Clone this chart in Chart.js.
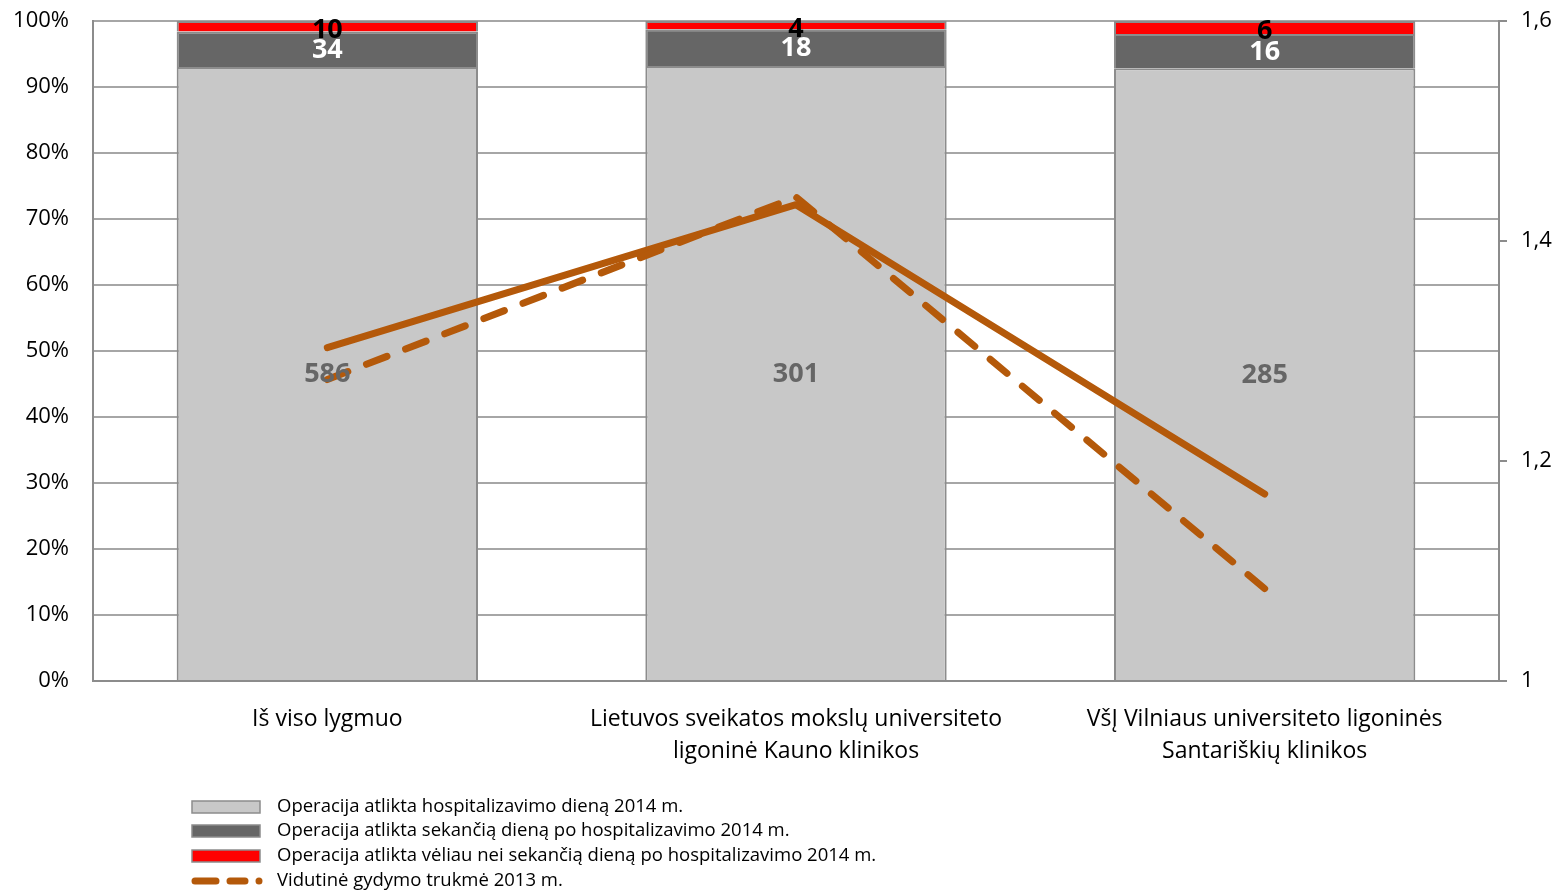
<!DOCTYPE html>
<html>
<head>
<meta charset="utf-8">
<script src="https://cdn.jsdelivr.net/npm/chart.js@4/dist/chart.umd.min.js"></script>
<style>
  html, body { margin: 0; padding: 0; background: #fff; }
  #wrap { width: 1561px; height: 893px; }
</style>
</head>
<body>
<div id="wrap"><canvas id="chart" width="1561" height="893"></canvas></div>
<script>
// categories and raw counts
const categories = [
  'Iš viso lygmuo',
  ['Lietuvos sveikatos mokslų universiteto', 'ligoninė Kauno klinikos'],
  ['VšĮ Vilniaus universiteto ligoninės', 'Santariškių klinikos']
];
const sameDay   = [586, 301, 285];
const nextDay   = [34, 18, 16];
const laterDay  = [10, 4, 6];
// average treatment duration (right axis)
const avg2013 = [1.274, 1.44, 1.084];
const avg2014 = [1.303, 1.433, 1.17];
const rightTicks = [1, 1.2, 1.4, 1.6];

const seriesNames = [
  'Operacija atlikta hospitalizavimo dieną 2014 m.',
  'Operacija atlikta sekančią dieną po hospitalizavimo 2014 m.',
  'Operacija atlikta vėliau nei sekančią dieną po hospitalizavimo 2014 m.',
  'Vidutinė gydymo trukmė 2013 m.',
  'Vidutinė gydymo trukmė 2014 m.'
];

const FONT = '"Open Sans", sans-serif';
const lineColor = '#b4590a';
const totals = sameDay.map((v, i) => v + nextDay[i] + laterDay[i]);
const pct = arr => arr.map((v, i) => v / totals[i] * 100);

// draw count labels in the middle of each bar segment
const barLabels = {
  id: 'barLabels',
  afterDatasetsDraw(chart) {
    const ctx = chart.ctx;
    const colors = ['#666666', '#ffffff', '#000000'];
    const raws = [sameDay, nextDay, laterDay];
    ctx.save();
    ctx.font = 'bold 27px ' + FONT;
    ctx.textAlign = 'center';
    ctx.textBaseline = 'middle';
    [0, 1, 2].forEach(di => {
      const meta = chart.getDatasetMeta(di);
      meta.data.forEach((bar, i) => {
        const y = (bar.y + bar.base) / 2 + (di === 2 ? 4 : 1);
        ctx.fillStyle = colors[di];
        ctx.fillText(String(raws[di][i]), bar.x, y);
      });
    });
    ctx.restore();
  }
};

// vertical legend, left aligned under the chart
const stackLegend = {
  id: 'stackLegend',
  afterDraw(chart) {
    const ctx = chart.ctx;
    const x0 = 192, x1 = 260, tx = 277;
    const rows = [807, 831, 856, 881];
    ctx.save();
    ctx.font = '18.5px ' + FONT;
    ctx.textBaseline = 'middle';
    ctx.textAlign = 'left';
    rows.forEach((y, i) => {
      const ds = chart.data.datasets[i];
      if (ds.type === 'line') {
        ctx.strokeStyle = ds.borderColor;
        ctx.lineWidth = 7;
        ctx.lineCap = 'round';
        ctx.setLineDash([21, 14, 15, 14, 0, 40]);
        ctx.beginPath();
        ctx.moveTo(x0 + 3, y);
        ctx.lineTo(x1, y);
        ctx.stroke();
        ctx.setLineDash([]);
      } else {
        ctx.fillStyle = ds.backgroundColor;
        ctx.fillRect(x0, y - 6, x1 - x0, 12);
        ctx.strokeStyle = '#8c8c8c';
        ctx.lineWidth = 1.5;
        ctx.strokeRect(x0, y - 6, x1 - x0, 12);
      }
      ctx.fillStyle = '#000';
      ctx.fillText(ds.label, tx, y);
    });
    ctx.restore();
  }
};

const noPad = s => { s.paddingTop = 0; s.paddingBottom = 0; };

new Chart(document.getElementById('chart'), {
  data: {
    labels: categories,
    datasets: [
      { type: 'bar', label: seriesNames[0], data: pct(sameDay), backgroundColor: '#c8c8c8',
        borderColor: '#8c8c8c', borderWidth: 2, yAxisID: 'y', order: 2 },
      { type: 'bar', label: seriesNames[1], data: pct(nextDay), backgroundColor: '#666666',
        borderColor: '#8c8c8c', borderWidth: 2, yAxisID: 'y', order: 2 },
      { type: 'bar', label: seriesNames[2], data: pct(laterDay), backgroundColor: '#ff0000',
        borderColor: '#8c8c8c', borderWidth: 2, yAxisID: 'y', order: 2 },
      { type: 'line', label: seriesNames[3], data: avg2013, borderColor: lineColor,
        borderWidth: 7, borderDash: [22, 20], borderCapStyle: 'round', borderJoinStyle: 'round',
        pointRadius: 0, yAxisID: 'y1', order: 1 },
      { type: 'line', label: seriesNames[4], data: avg2014, borderColor: lineColor,
        borderWidth: 7, borderCapStyle: 'round', borderJoinStyle: 'round',
        pointRadius: 0, yAxisID: 'y1', order: 1 }
    ]
  },
  options: {
    responsive: false,
    animation: false,
    layout: { padding: { top: 21, bottom: 0, left: 0, right: 0 } },
    datasets: { bar: { categoryPercentage: 1, barPercentage: 0.643 } },
    plugins: { legend: { display: false }, tooltip: { enabled: false } },
    scales: {
      x: {
        stacked: true,
        grid: { display: false },
        border: { display: true, color: '#8c8c8c', width: 2 },
        ticks: { color: '#000', font: { family: FONT, size: 23, lineHeight: 1.4 }, padding: 14, maxRotation: 0, autoSkip: false },
        afterFit(s) { s.height = 212; s.paddingLeft = 0; s.paddingRight = 0; }
      },
      y: {
        stacked: true,
        min: 0, max: 100,
        position: 'left',
        grid: { color: '#a6a6a6', lineWidth: 2, drawTicks: false },
        border: { display: true, color: '#8c8c8c', width: 2 },
        ticks: { stepSize: 10, color: '#000', font: { family: FONT, size: 22 }, padding: 24,
          callback: v => v + '%' },
        afterFit(s) { s.width = 93; noPad(s); }
      },
      y1: {
        min: 1, max: 1.6,
        position: 'right',
        grid: { drawOnChartArea: false, color: '#8c8c8c', lineWidth: 2, tickLength: 8 },
        border: { display: true, color: '#8c8c8c', width: 2 },
        afterBuildTicks(s) { s.ticks = rightTicks.map(v => ({ value: v })); },
        ticks: { color: '#000', font: { family: FONT, size: 22 }, padding: 14,
          callback: v => String(v).replace('.', ',') },
        afterFit(s) { s.width = 62; noPad(s); }
      }
    }
  },
  plugins: [barLabels, stackLegend]
});
</script>
</body>
</html>
